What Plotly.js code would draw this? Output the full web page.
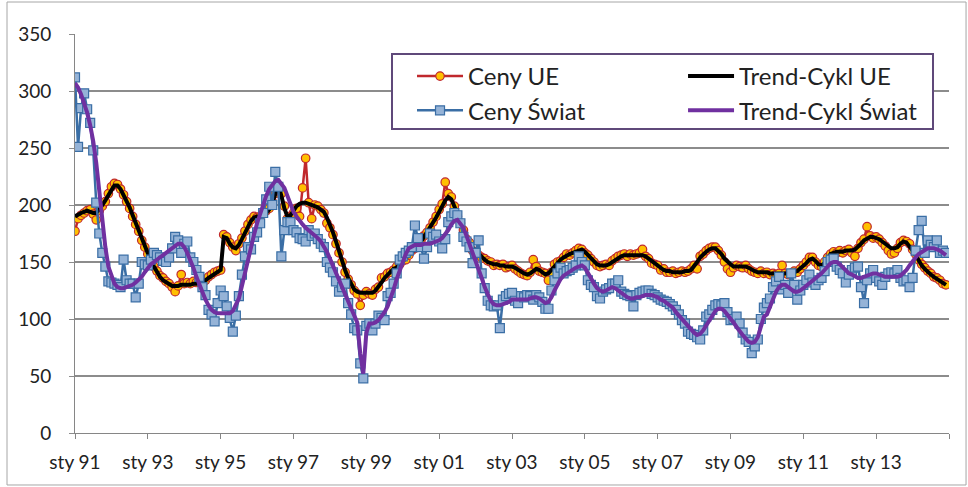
<!DOCTYPE html>
<html>
<head>
<meta charset="utf-8">
<script src="https://cdn.plot.ly/plotly-3.0.1.min.js"></script>
<style>html,body{margin:0;padding:0;background:#fff;}#chart{width:968px;height:487px;}</style>
</head>
<body>
<div id="chart"></div>
<script>
// Monthly data, Jan 1991 - Dec 2014
var tickLabels = ["sty 91","sty 93","sty 95","sty 97","sty 99","sty 01","sty 03","sty 05","sty 07","sty 09","sty 11","sty 13",""];

var cenyUE = [
177,188,191,193,195,196,192,187,195,199,203,210,
216,219,218,214,209,203,197,190,183,177,169,163,
157,150,146,142,138,136,133,131,128,124,129,139,
131,132,131,133,132,133,135,134,137,139,141,142,
143,174,172,167,163,160,166,171,177,183,187,190,
189,190,193,195,197,203,210,215,210,199,188,190,
193,197,190,215,241,202,188,200,199,196,193,184,
180,174,166,158,150,141,135,130,125,122,112,121,
124,122,121,126,128,136,137,140,141,143,146,148,
151,152,156,160,162,164,169,173,176,180,185,190,
196,201,220,210,207,199,190,184,178,170,167,160,
158,156,154,153,151,150,147,148,147,148,145,146,
147,144,142,140,139,138,141,152,146,142,141,140,
134,141,148,150,151,154,157,156,158,160,162,161,
158,156,153,150,147,146,147,148,147,151,153,155,
156,157,155,157,156,157,158,161,155,153,149,148,
147,143,144,141,141,142,140,141,142,141,142,144,
147,144,155,157,160,162,163,163,160,156,150,144,
141,145,147,146,145,147,144,142,141,140,142,140,
141,139,140,139,140,147,140,139,140,142,141,144,
147,150,154,154,150,147,146,150,154,157,159,158,
160,158,160,161,158,155,162,167,170,181,173,171,
172,170,167,164,160,157,158,162,167,169,168,166,
161,157,152,148,145,142,140,137,136,134,131,130
];

var trendUE = [
190,192,193,194,195,194,193,193,196,200,204,209,
213,217,217,214,209,204,198,191,184,177,170,163,
157,151,146,141,137,134,132,130,129,129,129,130,
130,130,130,131,131,132,133,134,136,138,140,141,
143,172,171,166,163,162,165,170,176,182,186,189,
190,190,191,193,196,202,210,217,208,197,190,191,
195,199,201,202,202,201,200,199,198,196,194,189,
183,176,168,159,151,143,136,130,126,124,123,123,
123,123,123,125,128,132,136,139,142,144,145,148,
151,154,157,159,161,164,168,172,176,180,184,189,
194,199,204,207,205,199,192,184,177,171,166,162,
160,157,155,152,150,149,148,148,147,147,146,146,
146,145,143,141,140,139,140,142,144,143,141,139,
140,143,147,150,152,154,156,157,158,159,160,161,
159,156,153,150,148,147,147,147,148,150,152,154,
155,156,156,156,156,156,156,156,155,153,150,148,
146,144,143,142,142,141,141,141,141,142,142,143,
146,150,154,157,159,161,162,162,160,157,153,150,
148,146,146,146,146,146,145,143,142,141,141,141,
141,140,140,140,140,140,140,140,141,141,142,144,
146,149,152,153,151,148,147,149,153,157,158,159,
159,159,160,160,160,161,163,166,169,171,172,172,
171,170,168,166,164,162,162,163,166,168,167,164,
160,156,151,147,144,141,139,137,135,133,131,130
];

var cenySwiat = [
312,251,285,298,284,272,248,202,175,158,146,133,
132,131,130,128,152,134,131,131,119,131,150,148,
147,152,158,156,154,151,150,154,162,172,169,158,
166,168,154,150,143,137,128,121,108,104,98,114,
125,120,111,101,89,103,120,139,155,163,161,172,
176,184,193,205,216,200,229,216,155,178,185,185,
178,176,171,170,168,178,173,175,170,166,163,150,
145,141,133,124,128,131,114,104,92,90,61,48,
94,96,90,96,103,101,99,120,123,131,140,152,
155,158,160,163,182,171,163,153,163,175,172,174,
168,162,170,185,190,193,191,184,172,168,163,149,
158,169,140,127,116,112,111,112,92,117,120,122,
123,116,114,120,119,121,120,117,121,119,115,109,
109,125,134,140,145,140,142,143,145,147,155,150,
147,134,130,128,120,118,124,126,127,131,131,134,
124,122,121,120,111,121,123,124,125,125,122,121,
119,117,116,115,113,111,108,104,99,96,89,87,
86,84,82,90,102,104,108,112,113,112,114,106,
99,100,102,96,88,82,80,70,76,82,100,110,
114,118,128,133,137,126,130,123,140,130,117,125,
130,134,139,132,130,134,136,142,150,152,153,146,
143,140,132,139,143,145,146,128,114,134,140,143,
136,133,130,137,140,141,140,143,136,133,134,128,
136,160,178,186,158,169,165,163,169,158,160,158
];

var trendSwiat = [
307,303,297,290,281,270,256,237,212,186,163,146,
137,131,128,127,127,128,129,130,132,134,137,141,
145,148,150,152,153,155,157,159,162,164,166,166,
163,158,152,145,137,130,123,117,112,108,106,105,
105,105,105,105,107,112,118,129,141,152,162,174,
184,193,201,208,214,218,221,222,219,215,208,201,
194,190,186,183,180,178,176,174,171,168,164,159,
153,147,141,135,129,123,117,111,104,97,70,52,
88,96,96,97,99,102,106,111,118,126,135,143,
150,157,162,164,165,165,165,166,166,166,167,168,
169,171,174,178,183,186,187,184,180,173,166,159,
152,144,136,128,121,116,113,112,112,113,114,115,
117,117,117,117,117,117,118,119,119,118,116,114,
115,119,125,131,135,138,140,142,143,145,146,147,
145,141,136,131,127,125,124,125,127,128,127,125,
122,120,119,118,118,119,119,120,121,121,121,120,
119,117,116,114,112,110,106,103,100,96,93,90,
88,86,87,90,94,98,103,107,109,109,107,104,
101,97,93,89,86,83,80,79,80,84,92,102,
104,111,118,124,128,130,130,128,126,124,124,125,
127,129,131,133,135,137,140,143,146,149,150,150,
148,145,142,140,139,137,136,136,137,138,139,140,
140,139,138,137,137,137,137,137,138,140,143,147,
151,154,157,159,161,162,162,162,161,160,158,156
];

var months = [];
for (var i = 0; i < cenyUE.length; i++) months.push(i);
var tickVals = [];
for (var k = 0; k < tickLabels.length; k++) tickVals.push(k * 24);

var FONT = '"Liberation Sans Narrow", "Arial Narrow", Lato, sans-serif';
var legendFont = {family: FONT, size: 24, color: '#222222'};

var traces = [
  {name: 'Ceny UE', legend: 'legend', x: months, y: cenyUE, type: 'scatter', mode: 'lines+markers',
   line: {color: '#c0282c', width: 2.5},
   marker: {symbol: 'circle', size: 8.5, color: '#ffc000', line: {color: '#c0282c', width: 1.2}}},
  {name: 'Trend-Cykl UE', legend: 'legend2', x: months, y: trendUE, type: 'scatter', mode: 'lines',
   line: {color: '#000000', width: 4}},
  {name: 'Ceny Świat', legend: 'legend', x: months, y: cenySwiat, type: 'scatter', mode: 'lines+markers',
   line: {color: '#3a6ea5', width: 2.5},
   marker: {symbol: 'square', size: 9, color: '#95b3d7', line: {color: '#3a6ea5', width: 1.2}}},
  {name: 'Trend-Cykl Świat', legend: 'legend2', x: months, y: trendSwiat, type: 'scatter', mode: 'lines',
   line: {color: '#7030a0', width: 4}}
];

var layout = {
  width: 968, height: 487,
  margin: {l: 75, r: 19, t: 34, b: 54},
  paper_bgcolor: '#ffffff', plot_bgcolor: '#ffffff',
  font: {family: FONT, size: 19, color: '#222222'},
  showlegend: true,
  legend: {
    orientation: 'v', x: 0.3856, xanchor: 'left', y: 0.9499, yanchor: 'top',
    itemwidth: 46, tracegroupgap: 0,
    bgcolor: 'rgba(0,0,0,0)', borderwidth: 0, font: legendFont
  },
  legend2: {
    orientation: 'v', x: 0.6957, xanchor: 'left', y: 0.9499, yanchor: 'top',
    itemwidth: 46, tracegroupgap: 0,
    bgcolor: 'rgba(0,0,0,0)', borderwidth: 0, font: legendFont
  },
  xaxis: {
    range: [0, 288], tickmode: 'array', tickvals: tickVals, ticktext: tickLabels,
    showgrid: false, zeroline: false, showline: true, linecolor: '#868686', linewidth: 1,
    ticks: 'outside', ticklen: 5, tickcolor: '#868686', ticklabelstandoff: 7,
    tickfont: {family: FONT, size: 19, color: '#222222'}, fixedrange: true
  },
  yaxis: {
    range: [0, 350], tickmode: 'linear', tick0: 0, dtick: 50,
    showgrid: true, gridcolor: '#8c8c8c', gridwidth: 1.3, zeroline: false,
    showline: true, linecolor: '#868686', linewidth: 1,
    ticks: 'outside', ticklen: 5, tickcolor: '#8c8c8c', ticklabelstandoff: 14,
    tickfont: {family: FONT, size: 19, color: '#222222'}, fixedrange: true
  },
  shapes: [
    {type: 'rect', xref: 'paper', yref: 'paper', x0: 0.3627, x1: 0.9817, y0: 0.7619, y1: 0.9499,
     line: {color: '#5f497a', width: 2}, fillcolor: '#ffffff', layer: 'above'},
    {type: 'rect', xref: 'paper', yref: 'paper', x0: -0.0778, x1: 1.0195, y0: -0.1303, y1: 1.0802,
     line: {color: '#a6a6a6', width: 1}, fillcolor: 'rgba(0,0,0,0)', layer: 'below'}
  ]
};

Plotly.newPlot('chart', traces, layout, {displayModeBar: false, staticPlot: true});
</script>
</body>
</html>
